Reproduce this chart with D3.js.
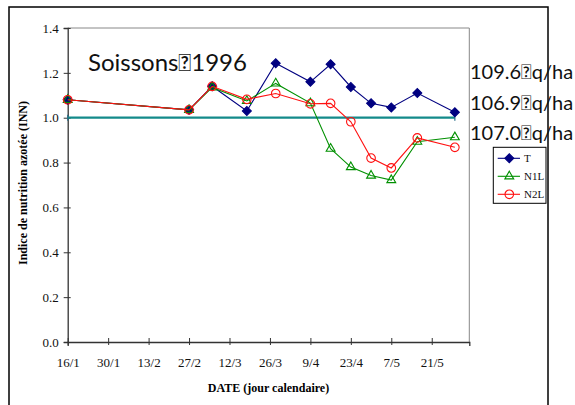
<!DOCTYPE html>
<html>
<head>
<meta charset="utf-8">
<script src="https://cdn.jsdelivr.net/npm/d3@7"></script>
<style>
  html, body { margin: 0; padding: 0; background: #fff; }
  svg { display: block; }
</style>
</head>
<body>
<svg id="chart" width="575" height="405"></svg>
<script>
// Sampling dates (day/month, 1996)
const sampleDates = ["16/1", "27/2", "6/3", "18/3", "28/3", "9/4", "16/4", "23/4", "30/4", "7/5", "16/5", "29/5"];
// Nitrogen nutrition index per treatment
const seriesT   = [1.08, 1.035, 1.14, 1.03, 1.243, 1.16, 1.238, 1.137, 1.064, 1.046, 1.11, 1.024];
const seriesN1L = [1.08, 1.035, 1.135, 1.075, 1.153, 1.065, 0.862, 0.78, 0.742, 0.722, 0.893, 0.913];
const seriesN2L = [1.08, 1.035, 1.14, 1.082, 1.108, 1.062, 1.064, 0.982, 0.82, 0.776, 0.91, 0.868];
// Reference line INN = 1 from first to last sampling date
const refDates = ["16/1", "29/5"];
const refValues = [1.0, 1.0];
// Axis ticks
const xTickLabels = ["16/1", "30/1", "13/2", "27/2", "12/3", "26/3", "9/4", "23/4", "7/5", "21/5"];
const yTickValues = [0.0, 0.2, 0.4, 0.6, 0.8, 1.0, 1.2, 1.4];
const xDomainLabels = ["16/1", "3/6"];
// Yields and site annotation
const seriesNames = ["T", "N1L", "N2L"];
const yieldLabels = ["109.6\uF020q/ha", "106.9\uF020q/ha", "107.0\uF020q/ha"];
const siteTitle = "Soissons\uF0201996";

const parseDate = s => { const [d, m] = s.split("/").map(Number); return new Date(1996, m - 1, d); };

const svg = d3.select("#chart");
const plot = { left: 67.7, top: 28, right: 469.3, bottom: 342 };

const x = d3.scaleTime()
  .domain(xDomainLabels.map(parseDate))
  .range([plot.left, plot.right]);
const y = d3.scaleLinear().domain([0, 1.4]).range([plot.bottom, plot.top]);

const serif = "'Liberation Serif', 'DejaVu Serif', serif";
const sans = "Lato, 'Open Sans', sans-serif";

// Outer frame
svg.append("rect")
  .attr("x", 9).attr("y", 7).attr("width", 539).attr("height", 420)
  .attr("fill", "none").attr("stroke", "#000").attr("stroke-width", 1.5);

// Plot area border (top and right)
svg.append("path")
  .attr("d", `M${plot.left},${plot.top}H${plot.right}V${plot.bottom}`)
  .attr("fill", "none").attr("stroke", "#888").attr("stroke-width", 1);

// Y axis
const yAxis = svg.append("g")
  .attr("transform", `translate(${plot.left},0)`)
  .attr("font-family", serif)
  .call(d3.axisLeft(y).tickValues(yTickValues).tickFormat(d3.format(".1f")).tickSize(4).tickPadding(5));
yAxis.attr("font-family", serif).attr("font-size", 13);
yAxis.select(".domain").attr("stroke", "#333").attr("stroke-width", 1.3);
yAxis.selectAll(".tick line").attr("stroke", "#333").attr("x2", -4).attr("x1", 3);
yAxis.selectAll("text").style("font-family", serif).attr("font-size", 13).attr("fill", "#111");

// X axis
const xAxis = svg.append("g")
  .attr("transform", `translate(0,${plot.bottom})`)
  .call(d3.axisBottom(x).tickValues(xTickLabels.map(parseDate))
    .tickFormat((d, i) => xTickLabels[i]).tickSize(4).tickPadding(12));
xAxis.attr("font-family", serif).attr("font-size", 13);
xAxis.select(".domain").attr("stroke", "#333").attr("stroke-width", 1.3);
xAxis.selectAll(".tick line").attr("stroke", "#333").attr("y1", -4).attr("y2", 3);
xAxis.selectAll("text").style("font-family", serif).attr("font-size", 13).attr("fill", "#111");

// Axis titles
svg.append("text")
  .attr("x", (plot.left + plot.right) / 2).attr("y", 392)
  .attr("text-anchor", "middle")
  .style("font-family", serif).attr("font-weight", "bold").attr("font-size", 12)
  .text("DATE (jour calendaire)");
svg.append("text")
  .attr("transform", `translate(26.5,${(plot.top + plot.bottom) / 2 - 2}) rotate(-90)`)
  .attr("text-anchor", "middle")
  .style("font-family", serif).attr("font-weight", "bold").attr("font-size", 12)
  .text("Indice de nutrition azotée (INN)");

// Reference line
const line = d3.line().x(d => x(d.date)).y(d => y(d.value));
const refData = refDates.map((d, i) => ({ date: parseDate(d), value: refValues[i] }));
svg.append("path").datum(refData)
  .attr("d", line).attr("fill", "none").attr("stroke", "#138a8a").attr("stroke-width", 2.2);
svg.selectAll(".refmark").data(refData).join("path")
  .attr("class", "refmark")
  .attr("d", d => `M${x(d.date)},${y(d.value) - 3}V${y(d.value) + 3}`)
  .attr("stroke", "#2a6f8a").attr("stroke-width", 1.2);

// Series
const series = [
  { name: seriesNames[0], values: seriesT,   color: "#000080", symbol: d3.symbolSquare,   size: 40, rotate: 45, filled: true },
  { name: seriesNames[1], values: seriesN1L, color: "#009000", symbol: d3.symbolTriangle, size: 34, rotate: 0,  filled: false },
  { name: seriesNames[2], values: seriesN2L, color: "#ff1010", symbol: d3.symbolCircle,   size: 58, rotate: 0,  filled: false }
];

series.forEach(s => {
  const pts = sampleDates.map((d, i) => ({ date: parseDate(d), value: s.values[i] }));
  const g = svg.append("g");
  g.append("path").datum(pts)
    .attr("d", line).attr("fill", "none").attr("stroke", s.color).attr("stroke-width", 1.1);
  g.selectAll("path.mk").data(pts).join("path")
    .attr("class", "mk")
    .attr("transform", d => `translate(${x(d.date)},${y(d.value)}) rotate(${s.rotate})`)
    .attr("d", d3.symbol(s.symbol, s.size))
    .attr("fill", s.filled ? s.color : "none")
    .attr("stroke", s.color).attr("stroke-width", 1.1);
});

// Site title
svg.append("text")
  .attr("x", 88).attr("y", 70.7)
  .style("font-family", sans).attr("font-size", 24)
  .attr("fill", "#111")
  .text(siteTitle);

// Yield annotations
svg.selectAll(".yield").data(yieldLabels).join("text")
  .attr("class", "yield")
  .attr("x", 470).attr("y", (d, i) => 79.3 + i * 30.5)
  .style("font-family", sans).attr("font-size", 20)
  .attr("fill", "#111")
  .text(d => d);

// Legend
const legend = svg.append("g");
legend.append("rect")
  .attr("x", 493.3).attr("y", 147.3).attr("width", 52.7).attr("height", 56)
  .attr("fill", "#fff").attr("stroke", "#000").attr("stroke-width", 1);
series.forEach((s, i) => {
  const ly = 158.3 + i * 18;
  legend.append("line")
    .attr("x1", 497.7).attr("x2", 520).attr("y1", ly).attr("y2", ly)
    .attr("stroke", s.color).attr("stroke-width", 1.1);
  legend.append("path")
    .attr("transform", `translate(509.3,${ly}) rotate(${s.rotate})`)
    .attr("d", d3.symbol(s.symbol, s.size))
    .attr("fill", s.filled ? s.color : "none")
    .attr("stroke", s.color).attr("stroke-width", 1.1);
  legend.append("text")
    .attr("x", 524).attr("y", ly + 4)
    .style("font-family", serif).attr("font-size", 11).attr("fill", "#111")
    .text(s.name);
});
</script>
</body>
</html>
